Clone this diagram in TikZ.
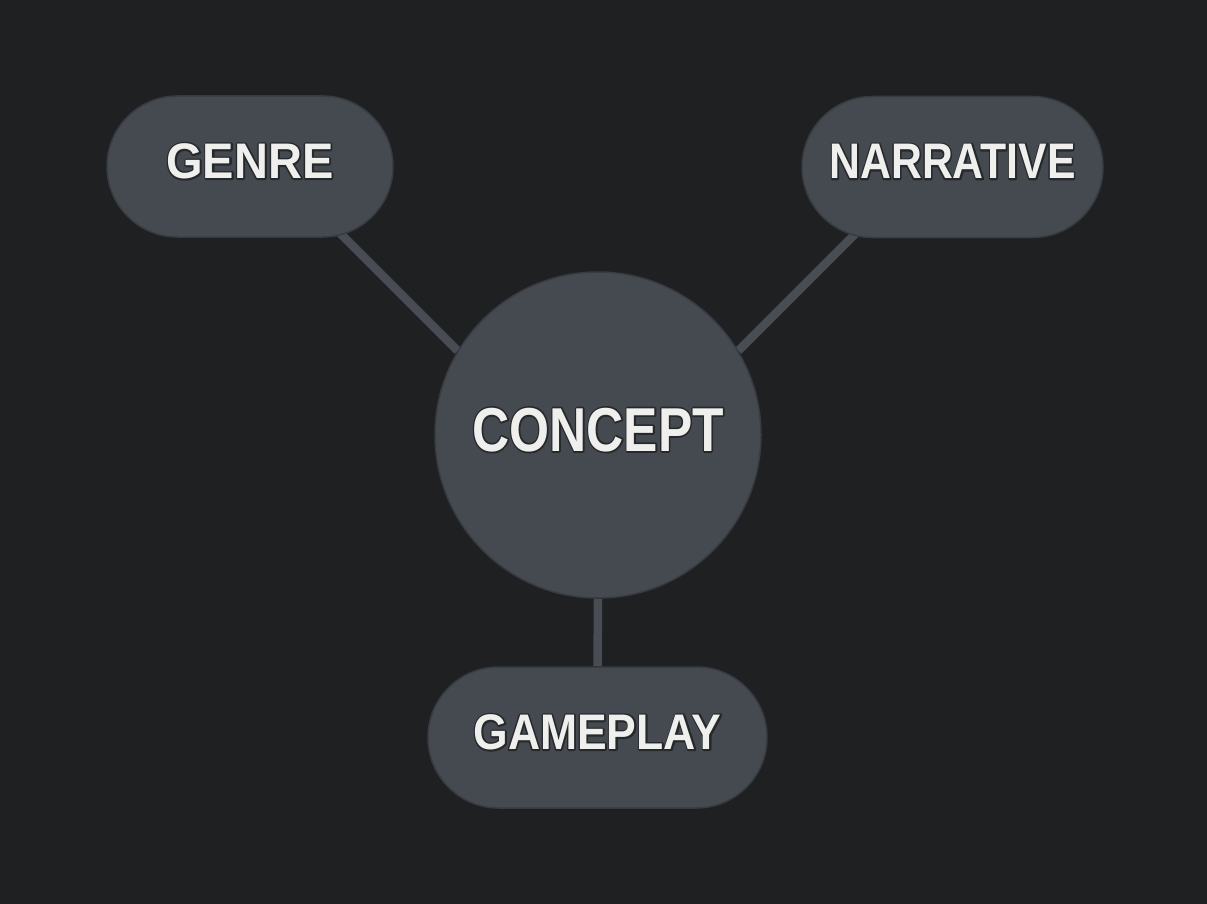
\documentclass[tikz,border=0pt]{standalone}
\usepackage{fontspec}
\setmainfont{Liberation Sans}
\newfontfamily\labelfont{Liberation Sans}
\usetikzlibrary{shapes.misc,calc,backgrounds}
\definecolor{bg}{HTML}{1F2021}
\definecolor{nodefill}{HTML}{454A51}
\definecolor{nodeedge}{HTML}{383C42}
\definecolor{linkcol}{HTML}{484D54}
\definecolor{labeltext}{HTML}{EFEFED}
\newcommand{\lbl}[2]{\scalebox{#1}[1]{\rlap{\special{pdf:code 1 Tr 3.5 w 1 j 0.15 0.16 0.17 RG}#2\special{pdf:code 0 Tr}}#2}}
\begin{document}
\begin{tikzpicture}[x=1pt,y=-1pt,
  pill/.style={rounded rectangle, fill=nodefill, draw=nodeedge, line width=1.5pt,
    minimum height=141pt, inner sep=0pt, text=labeltext, text depth=11pt,
    font=\labelfont\bfseries\fontsize{50}{50}\selectfont},
  hub/.style={circle, fill=nodefill, draw=nodeedge, line width=1.5pt,
    minimum size=326pt, inner sep=0pt, text=labeltext, text depth=11pt,
    font=\labelfont\bfseries\fontsize{62}{62}\selectfont},
  link/.style={draw=linkcol, line width=8.5pt}]
  \useasboundingbox (0,0) rectangle (1207,904);
  \node[pill, minimum width=286pt] (genre) at (250,166.5) {\lbl{0.94}{GENRE}};
  \node[pill, minimum width=301pt] (narrative) at (952.5,167) {\lbl{0.855}{NARRATIVE}};
  \node[hub] (concept) at (598,435) {\lbl{0.83}{CONCEPT}};
  \node[pill, minimum width=339pt] (gameplay) at (597.5,737.5) {\lbl{0.89}{GAMEPLAY}};
  \coordinate (gj) at ($(concept.149)+(-128,-128)$);
  \coordinate (nj) at ($(concept.31)+(128,-128)$);
  \begin{scope}[on background layer]
    \fill[bg] (0,0) rectangle (1207,904);
    \draw[link] (concept.149) -- (gj);
    \draw[link] (concept.31) -- (nj);
    \draw[link] (concept.south) -- (gameplay.north);
  \end{scope}
\end{tikzpicture}
\end{document}
